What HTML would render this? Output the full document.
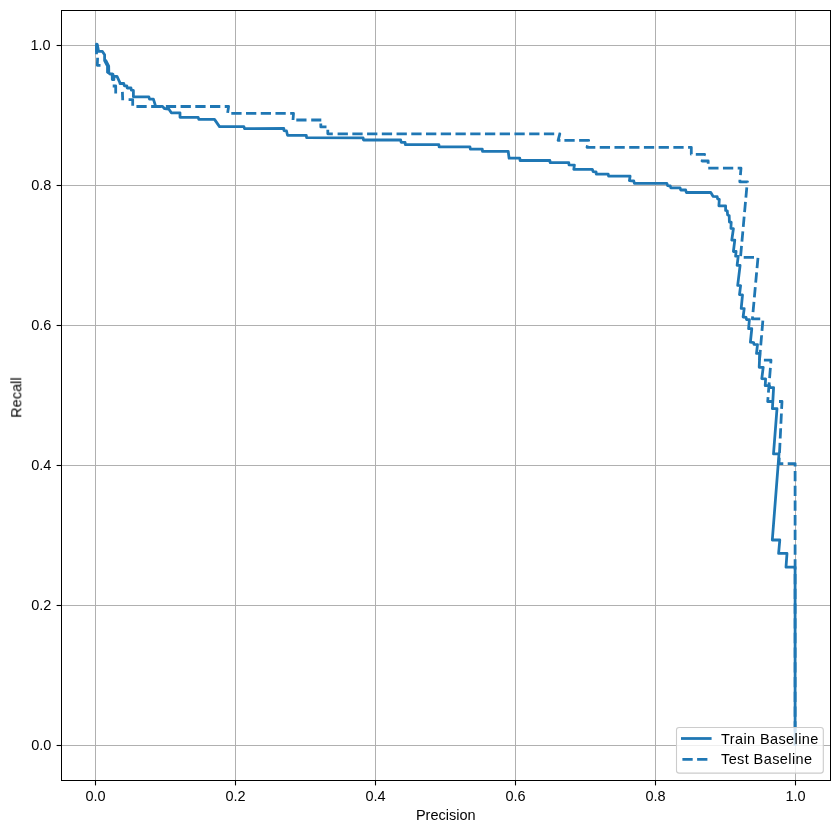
<!DOCTYPE html>
<html><head><meta charset="utf-8"><title>Precision-Recall</title>
<style>
html,body{margin:0;padding:0;background:#fff;}
body{width:839px;height:833px;overflow:hidden;position:relative;font-family:"Liberation Sans",sans-serif;}
svg{position:absolute;left:0;top:0;}
text{font-family:"Liberation Sans",sans-serif;fill:#000;}
</style></head><body>
<svg width="839" height="833" viewBox="0 0 839 833">
<rect x="0" y="0" width="839" height="833" fill="#ffffff"/>

<g fill="#b0b0b0" shape-rendering="crispEdges">
<rect x="95" y="11" width="1" height="769"/>
<rect x="235" y="11" width="1" height="769"/>
<rect x="375" y="11" width="1" height="769"/>
<rect x="515" y="11" width="1" height="769"/>
<rect x="655" y="11" width="1" height="769"/>
<rect x="795" y="11" width="1" height="769"/>
<rect x="62" y="45" width="768" height="1"/>
<rect x="62" y="185" width="768" height="1"/>
<rect x="62" y="325" width="768" height="1"/>
<rect x="62" y="465" width="768" height="1"/>
<rect x="62" y="605" width="768" height="1"/>
<rect x="62" y="745" width="768" height="1"/>
</g>
<clipPath id="ax"><rect x="61.5" y="10.5" width="769" height="770"/></clipPath>
<g clip-path="url(#ax)" fill="none" stroke="#1f77b4" stroke-width="2.78" stroke-linejoin="round">
<path d="M96.5,52.8 L96.5,44.2 L97.3,44.4 L98.6,51.4 L102.4,51.4 L104.6,54.8 L104.6,60.5 L107.5,66.0 L107.5,72.2 L110.2,74.0 L112.2,73.9 L112.3,79.6 L113.9,79.6 L114.0,76.4 L117.0,76.4 L119.9,82.7 L120.0,83.5 L123.8,83.5 L124.3,85.8 L126.8,85.8 L127.2,88.0 L131.0,88.0 L131.4,90.2 L133.4,90.4 L133.4,96.8 L148.9,96.8 L149.5,99.1 L153.4,99.1 L155.6,106.2 L162.5,106.3 L164.4,108.5 L168.8,109.0 L171.3,112.8 L180.0,112.8 L180.0,117.3 L198.2,117.3 L198.8,119.4 L214.5,119.4 L219.5,126.6 L243.9,126.6 L244.5,128.6 L283.8,128.5 L284.0,130.7 L286.5,131.0 L287.5,135.3 L306.3,135.3 L306.6,137.7 L363.1,137.8 L363.5,140.0 L400.7,140.0 L401.1,142.3 L405.1,142.3 L405.3,144.6 L438.9,144.6 L439.1,146.9 L470.0,146.9 L470.3,149.1 L482.3,149.1 L482.5,151.3 L508.2,151.3 L509.1,158.2 L519.8,158.2 L520.1,160.5 L549.9,160.5 L550.1,162.6 L568.8,162.6 L569.0,164.8 L574.4,165.1 L573.8,169.4 L592.3,169.4 L593.2,171.6 L596.1,172.0 L596.3,174.1 L608.2,174.1 L608.6,176.2 L630.1,176.2 L629.4,180.7 L633.8,181.0 L634.4,183.4 L666.9,183.4 L667.6,185.7 L670.3,186.0 L670.7,187.8 L680.1,187.8 L680.7,190.0 L685.7,190.0 L686.3,192.5 L710.8,192.5 L713.0,196.3 L717.2,196.7 L717.6,198.8 L719.3,199.3 L718.9,205.8 L725.6,205.8 L725.6,210.4 L727.3,210.8 L727.6,215.0 L729.2,215.5 L729.4,222.0 L731.2,222.2 L730.9,228.3 L733.4,228.7 L731.8,240.0 L734.8,240.2 L733.4,251.5 L736.1,251.5 L735.6,256.1 L738.2,256.3 L737.1,265.4 L740.1,265.4 L737.7,285.3 L740.6,285.6 L739.5,294.7 L742.5,295.0 L741.2,308.4 L744.2,308.6 L743.1,317.0 L746.1,317.4 L746.5,319.5 L749.4,319.7 L748.6,328.6 L751.8,328.7 L750.4,342.2 L753.6,342.6 L754.0,344.4 L757.5,344.6 L756.5,353.4 L759.8,353.4 L759.2,367.3 L763.2,367.3 L761.8,378.6 L765.6,378.9 L765.2,385.6 L769.4,385.6 L769.8,387.6 L773.6,387.6 L772.4,408.7 L777.0,408.7 L773.5,453.9 L779.0,453.9 L772.3,540.0 L779.8,540.0 L778.6,553.4 L787.0,553.4 L786.0,567.2 L795.1,567.2 L795.1,744.1" stroke-linecap="square"/>
<path d="M106.0,60.8 L108.7,66.2 L108.8,72.4" stroke-linecap="round"/>
<path d="M113.0,74.5 V79.3" stroke-linecap="round"/>
<path d="M96.5,45.4 V52" stroke-linecap="butt"/>
<path d="M97.6,57.8 L97.3,65.3 H100.5" stroke-linecap="butt"/>
<path d="M112.7,86.0 H115.7 V93.6" stroke-linecap="butt"/>
<path d="M122.4,91.9 L122.7,100.3" stroke-linecap="butt"/>
<path d="M128.6,99.6 H132.7 V106.5 H228.6 L227.6,113.2" stroke-dasharray="10.28 4.44" stroke-linecap="butt"/>
<path d="M231.3,113.3 H293.5 L293.0,120.0" stroke-dasharray="10.28 4.44" stroke-linecap="butt"/>
<path d="M296.3,120 H306.5" stroke-linecap="butt"/>
<path d="M311.2,120 H321.3" stroke-linecap="butt"/>
<path d="M320.8,123.6 V126.9 H326.5" stroke-linecap="butt"/>
<path d="M327.8,129.8 V133.8 H332.8" stroke-linecap="butt"/>
<path d="M337.6,133.8 H559.8 L558.1,140.4 H560.5" stroke-dasharray="10.3 4.436" stroke-linecap="butt"/>
<path d="M564.4,140.4 H588.7 L587.0,147.3 H691.3 V154.3 H704.6 L702.0,161.0 H708.2 V168.2 H741.0 L740.4,175.4" stroke-dasharray="10.28 4.44" stroke-linecap="butt"/>
<path d="M739.9,179.8 L739.8,181.8 H747.5 L747.45,182.4" stroke-linecap="butt"/>
<path d="M746.8,187.3 L740.5,257.4 H758.0 L752.4,318.9 H763.0 L759.5,360.2 H771.0 L767.7,401.5 H774" stroke-dasharray="10.28 4.44" stroke-linecap="butt"/>
<path d="M779.0,401.5 H782.0 L781.6,408.9" stroke-linecap="butt"/>
<path d="M781.4,413.5 L779.0,463.6 H795.1 V745.4" stroke-dasharray="10.28 4.44" stroke-linecap="butt"/>
</g>
<g fill="#000" shape-rendering="crispEdges">
<rect x="61" y="10" width="1" height="771"/>
<rect x="830" y="10" width="1" height="771"/>
<rect x="61" y="10" width="770" height="1"/>
<rect x="61" y="780" width="770" height="1"/>
</g>
<g stroke="#000" stroke-width="1.1" fill="none">
<path d="M95.5,780.5 V785.4"/>
<path d="M235.5,780.5 V785.4"/>
<path d="M375.5,780.5 V785.4"/>
<path d="M515.5,780.5 V785.4"/>
<path d="M655.5,780.5 V785.4"/>
<path d="M795.5,780.5 V785.4"/>
<path d="M61.5,45.5 H56.6"/>
<path d="M61.5,185.5 H56.6"/>
<path d="M61.5,325.5 H56.6"/>
<path d="M61.5,465.5 H56.6"/>
<path d="M61.5,605.5 H56.6"/>
<path d="M61.5,745.5 H56.6"/>
</g>
<g font-size="14.5px" opacity="0.999">
<text x="95.5" y="800.5" text-anchor="middle">0.0</text>
<text x="235.5" y="800.5" text-anchor="middle">0.2</text>
<text x="375.5" y="800.5" text-anchor="middle">0.4</text>
<text x="515.5" y="800.5" text-anchor="middle">0.6</text>
<text x="655.5" y="800.5" text-anchor="middle">0.8</text>
<text x="795.5" y="800.5" text-anchor="middle">1.0</text>
<text x="51.4" y="749.7" text-anchor="end">0.0</text>
<text x="51.4" y="609.7" text-anchor="end">0.2</text>
<text x="51.4" y="469.7" text-anchor="end">0.4</text>
<text x="51.4" y="329.7" text-anchor="end">0.6</text>
<text x="51.4" y="189.7" text-anchor="end">0.8</text>
<text x="50.6" y="49.7" text-anchor="end">1.0</text>
<text x="445.7" y="820" text-anchor="middle">Precision</text>
<text transform="translate(21.3,397.6) rotate(-90)" text-anchor="middle">Recall</text>
</g>
<rect x="676.5" y="727.5" width="146.8" height="45.6" rx="2.6" ry="2.6" fill="#ffffff" fill-opacity="0.8" stroke="#cccccc" stroke-width="1.1"/>
<path d="M682.4,738.5 H710.2" stroke="#1f77b4" stroke-width="2.78" stroke-linecap="square" fill="none"/>
<path d="M682.4,759.4 H710.2" stroke="#1f77b4" stroke-width="2.78" stroke-dasharray="10.28 4.44" fill="none"/>
<g font-size="14.5px" letter-spacing="0.4" opacity="0.999">
<text x="721" y="743.9">Train Baseline</text>
<text x="721" y="764.3">Test Baseline</text>
</g>
</svg></body></html>
